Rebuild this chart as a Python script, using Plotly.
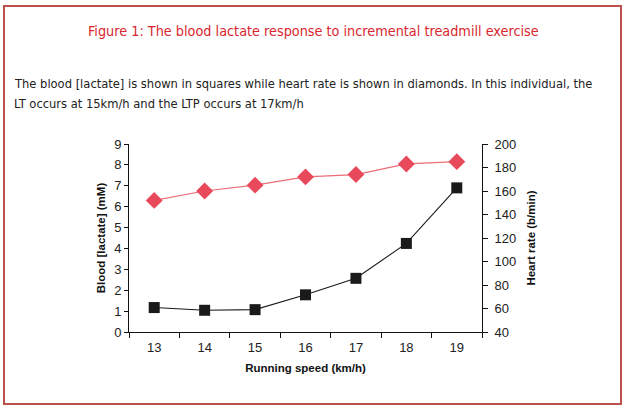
import plotly.graph_objects as go

speed = [13, 14, 15, 16, 17, 18, 19]
lactate = [1.17, 1.04, 1.07, 1.78, 2.57, 4.24, 6.9]
heart_rate = [152, 160, 165, 172, 174, 183, 185]

W, H = 626, 411
L, R, T, B = 129, 482, 144, 332

def px(x):
    return (x - L) / (R - L)

def py(y):
    return (B - y) / (B - T)

fig = go.Figure()
fig.add_trace(go.Scatter(
    x=speed, y=heart_rate, yaxis="y2", mode="lines+markers",
    line=dict(color="#ea6d78", width=1.2),
    marker=dict(symbol="diamond", size=13, color="#e8495b"),
    showlegend=False))
fig.add_trace(go.Scatter(
    x=speed, y=lactate, mode="lines+markers",
    line=dict(color="#1a1a1a", width=1.1),
    marker=dict(symbol="square", size=11, color="#1a1a1a"),
    showlegend=False))

tickfont = dict(family="Liberation Sans, Arial", size=13, color="#222")
titlefont = dict(family="Liberation Sans, Arial", size=11.5, color="#111", weight="bold")

fig.update_layout(
    width=W, height=H,
    margin=dict(l=L, r=W - R, t=T, b=H - B),
    paper_bgcolor="white", plot_bgcolor="white",
    xaxis=dict(range=[12.5, 19.5], tickvals=speed, ticktext=[str(s) for s in speed],
               showgrid=False, zeroline=False, showline=True, linecolor="#111", linewidth=1,
               ticks="", tickfont=tickfont, automargin=False, ticklabelstandoff=3,
               title=dict(text="Running speed (km/h)", font=titlefont, standoff=10)),
    yaxis=dict(range=[0, 9], dtick=1, showgrid=False, zeroline=False, showline=True,
               linecolor="#111", linewidth=1, ticks="outside", ticklen=4, tickcolor="#111",
               tickfont=tickfont, automargin=False,
               title=dict(text="Blood [lactate] (mM)", font=titlefont, standoff=6)),
    yaxis2=dict(range=[40, 200], dtick=20, overlaying="y", side="right", showgrid=False,
                zeroline=False, showline=True, linecolor="#111", linewidth=1, automargin=False,
                ticks="outside", ticklen=5, tickcolor="#111", tickfont=tickfont,
                ticklabelstandoff=4,
                title=dict(text="Heart rate (b/min)", font=titlefont, standoff=11)),
    xaxis2=dict(overlaying="x", range=[12.5, 19.5], tickvals=[12.5 + i for i in range(8)],
                showticklabels=False, ticks="outside", ticklen=5, tickcolor="#111",
                showgrid=False, zeroline=False, side="bottom", showline=False, automargin=False),
)

# x-axis tick marks between categories
fig.add_trace(go.Scatter(x=[12.5], y=[0], xaxis="x2", mode="markers",
                         marker=dict(size=0, opacity=0), showlegend=False, hoverinfo="skip"))

# border
fig.add_shape(type="rect", xref="paper", yref="paper",
              x0=px(4), x1=px(621), y0=py(404), y1=py(6),
              line=dict(color="#b9534c", width=2), fillcolor="rgba(0,0,0,0)", layer="below")

fig.add_annotation(text="Figure 1: The blood lactate response to incremental treadmill exercise",
                   xref="paper", yref="paper", x=px(313), y=py(31), showarrow=False,
                   xanchor="center", yanchor="middle",
                   font=dict(family="DejaVu Sans Condensed, DejaVu Sans", size=14.3, color="#d9262e"))
fig.add_annotation(text="The blood [lactate] is shown in squares while heart rate is shown in diamonds. In this individual, the",
                   xref="paper", yref="paper", x=px(12), y=py(83), showarrow=False,
                   xanchor="left", yanchor="middle",
                   font=dict(family="DejaVu Sans Condensed, DejaVu Sans", size=12.8, color="#222"))
fig.add_annotation(text="LT occurs at 15km/h and the LTP occurs at 17km/h",
                   xref="paper", yref="paper", x=px(12), y=py(104), showarrow=False,
                   xanchor="left", yanchor="middle",
                   font=dict(family="DejaVu Sans Condensed, DejaVu Sans", size=12.8, color="#222"))

fig.write_html("out.html", config={"displayModeBar": False},
               post_script="document.body.style.margin='0';document.body.style.overflow='hidden';")
